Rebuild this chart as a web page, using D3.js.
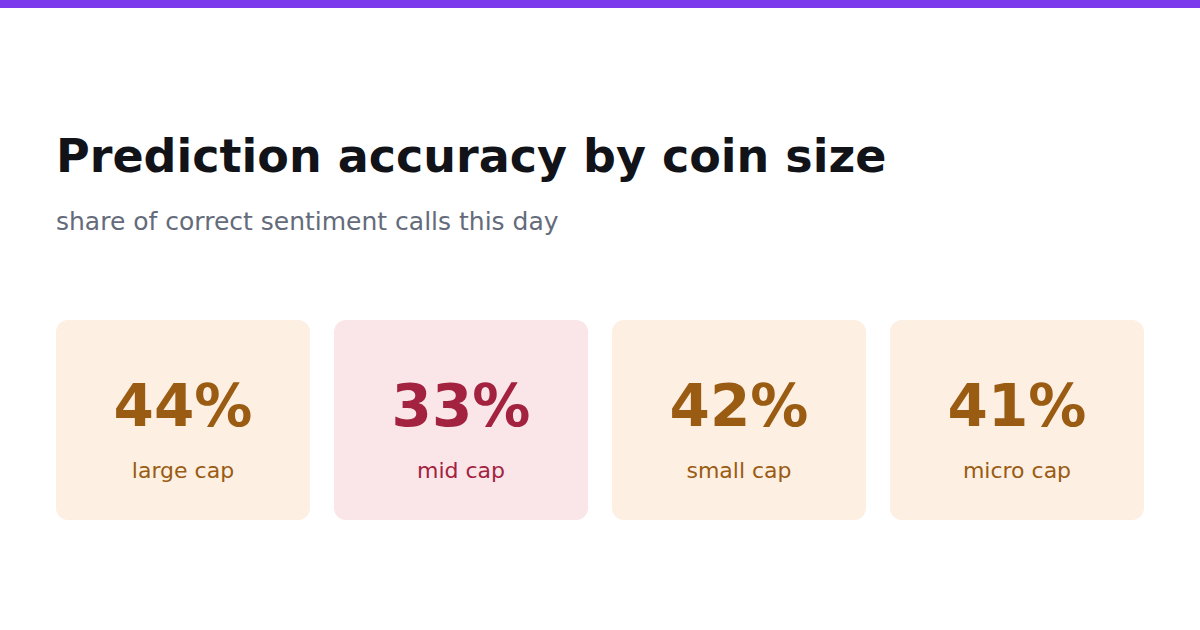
<!DOCTYPE html>
<html>
<head>
<meta charset="utf-8">
<script src="https://cdn.jsdelivr.net/npm/d3@7"></script>
<style>
  html, body { margin: 0; padding: 0; background: #ffffff; }
  svg { display: block; font-family: "DejaVu Sans", sans-serif; }
</style>
</head>
<body>
<svg id="chart"></svg>
<script>
var categories = ['large cap', 'mid cap', 'small cap', 'micro cap'];
var accuracy = [44, 33, 42, 41];
var tones = ['warn', 'bad', 'warn', 'warn'];

var titleText = 'Prediction accuracy by coin size';
var subtitleText = 'share of correct sentiment calls this day';

var palette = {
    warn: { bg: '#fdefe2', fg: '#9a5b13' },
    bad:  { bg: '#fae6e8', fg: '#a3223f' }
};

var width = 1200, height = 630;
var opts = {
    left: 56,
    right: 1144,
    cardTop: 320,
    cardHeight: 200,
    gap: 24,
    radius: 12
};

var svg = d3.select('#chart')
    .attr('width', width)
    .attr('height', height);

svg.append('rect')
    .attr('width', width)
    .attr('height', 8)
    .style('fill', '#7c3aed');

svg.append('text')
    .attr('x', opts.left)
    .attr('y', 172)
    .style('font-size', '46px')
    .style('font-weight', 'bold')
    .style('fill', '#111318')
    .text(titleText);

svg.append('text')
    .attr('x', opts.left)
    .attr('y', 230)
    .style('font-size', '25px')
    .style('fill', '#646b7a')
    .text(subtitleText);

// inner padding as a fraction of the step, so the gap between cards is opts.gap px
var innerPad = opts.gap / ((opts.right - opts.left + opts.gap) / categories.length);
var xScale = d3.scaleBand()
    .domain(categories)
    .range([opts.left, opts.right])
    .paddingInner(innerPad)
    .paddingOuter(0);

var data = categories.map(function(c, i) {
    return { name: c, value: accuracy[i], tone: tones[i] };
});

var cards = svg.selectAll('.card')
    .data(data)
    .enter()
    .append('g')
    .attr('class', 'card')
    .attr('transform', function(d) { return 'translate(' + xScale(d.name) + ',' + opts.cardTop + ')'; });

cards.append('rect')
    .attr('width', xScale.bandwidth())
    .attr('height', opts.cardHeight)
    .attr('rx', opts.radius)
    .attr('ry', opts.radius)
    .style('fill', function(d) { return palette[d.tone].bg; });

cards.append('text')
    .attr('x', xScale.bandwidth() / 2)
    .attr('y', 106)
    .style('text-anchor', 'middle')
    .style('font-size', '58px')
    .style('font-weight', 'bold')
    .style('fill', function(d) { return palette[d.tone].fg; })
    .text(function(d) { return d.value + '%'; });

cards.append('text')
    .attr('x', xScale.bandwidth() / 2)
    .attr('y', 158)
    .style('text-anchor', 'middle')
    .style('font-size', '22px')
    .style('fill', function(d) { return palette[d.tone].fg; })
    .text(function(d) { return d.name; });
</script>
</body>
</html>
